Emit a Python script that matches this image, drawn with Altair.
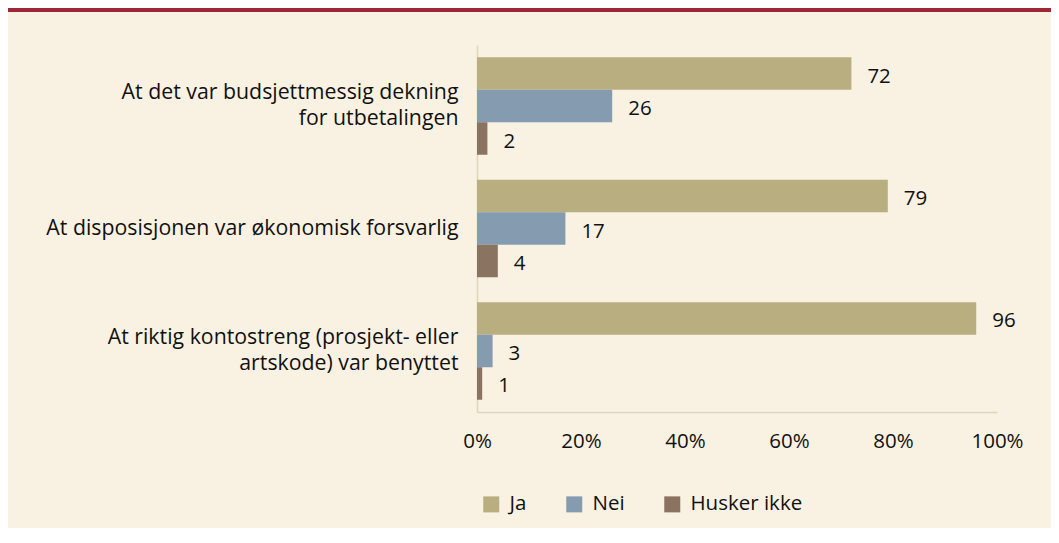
import altair as alt
import pandas as pd

questions = [
    "At det var budsjettmessig dekning|for utbetalingen",
    "At disposisjonen var økonomisk forsvarlig",
    "At riktig kontostreng (prosjekt- eller|artskode) var benyttet",
]
series = ["Ja", "Nei", "Husker ikke"]
ja = [72, 79, 96]
nei = [26, 17, 3]
husker = [2, 4, 1]
colors = ["#b8ae80", "#849bb0", "#8a7360"]
x_ticks = [0, 20, 40, 60, 80, 100]

rows = []
for i, q in enumerate(questions):
    for s, vals in zip(series, [ja, nei, husker]):
        rows.append({"q": q, "s": s, "v": vals[i]})
df = pd.DataFrame(rows)

FONT = "Open Sans"
FS = 20.5
BG = "#f9f1e2"
AXIS = "#e0d6bc"
TXT = "#111111"

W, H = 520, 367
PL, PT = 469, 37
TOTAL_W, TOTAL_H = 1043, 520

y_enc = alt.Y(
    "q:N", sort=questions,
    scale=alt.Scale(paddingInner=0.204, paddingOuter=0.1),
    axis=alt.Axis(
        title=None, ticks=False, domainColor=AXIS, domainWidth=1.5,
        labelExpr="split(datum.label, '|')", labelLineHeight=26,
        labelFontSize=21.3, labelFont=FONT, labelColor=TXT,
        labelPadding=19, labelLimit=500,
        labelOffset={"condition": {"test": "indexof(datum.value, '|') >= 0", "value": -13}, "value": 0},
    ),
)
yoff = alt.YOffset("s:N", sort=series, scale=alt.Scale(paddingInner=0, paddingOuter=0))
x_enc = alt.X(
    "v:Q", scale=alt.Scale(domain=[0, 100], nice=False),
    axis=alt.Axis(
        title=None, values=x_ticks, labelExpr="datum.value + '%'",
        ticks=False, grid=False, domainColor=AXIS, domainWidth=1.5,
        labelFontSize=FS, labelFont=FONT, labelColor=TXT,
        labelPadding=19, labelFlush=False,
    ),
)

bars = alt.Chart(df).mark_bar().encode(
    x=x_enc, y=y_enc, yOffset=yoff,
    color=alt.Color("s:N", sort=series,
                    scale=alt.Scale(domain=series, range=colors),
                    legend=alt.Legend(title=None)),
)

labels = alt.Chart(df).mark_text(
    align="left", baseline="middle", dx=16, dy=3, fontSize=FS, font=FONT, color=TXT
).encode(x="v:Q", y=alt.Y("q:N", sort=questions), yOffset=alt.YOffset("s:N", sort=series), text="v:Q")

band = alt.Chart(pd.DataFrame({"a": [0]})).mark_rect(color="#9e2636").encode(
    x=alt.value(-PL), x2=alt.value(TOTAL_W - PL), y=alt.value(-PT), y2=alt.value(-PT + 4)
)

chart = alt.layer(band, bars, labels).properties(
    width=W, height=H,
    autosize=alt.AutoSizeParams(type="none"),
    padding={"left": PL, "top": PT, "right": TOTAL_W - PL - W, "bottom": TOTAL_H - PT - H},
    background=BG,
).configure_view(stroke=None).configure_legend(
    orient="none", legendX=4, legendY=449, direction="horizontal",
    symbolType="square", symbolSize=256, symbolStrokeWidth=0,
    labelFontSize=FS, labelFont=FONT, labelColor=TXT,
    columnPadding=37, labelOffset=8,
)

chart.save("out.html", embed_options={"renderer": "svg", "actions": False})
